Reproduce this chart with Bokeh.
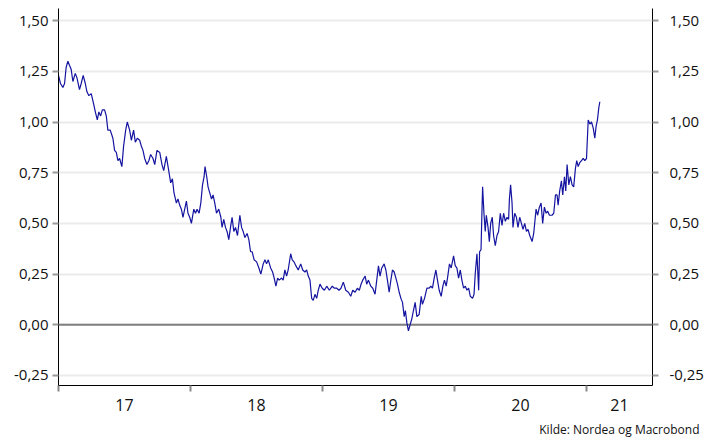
from bokeh.plotting import figure
from bokeh.models import FixedTicker, LinearAxis, Span, Range1d, Title
from bokeh.embed import file_html
from bokeh.resources import INLINE

# time in years since 1 Jan 2017
years_since_2017 = [
    0.000, 0.015, 0.033, 0.046, 0.058, 0.071, 0.083, 0.096, 0.109, 0.127,
    0.139, 0.159, 0.172, 0.187, 0.203, 0.215, 0.230, 0.248, 0.266, 0.279,
    0.294, 0.306, 0.319, 0.332, 0.349, 0.362, 0.374, 0.392, 0.412, 0.425,
    0.438, 0.450, 0.463, 0.480, 0.493, 0.509, 0.521, 0.539, 0.552, 0.569,
    0.582, 0.597, 0.615, 0.628, 0.640, 0.653, 0.670, 0.685, 0.698, 0.716,
    0.729, 0.746, 0.767, 0.784, 0.797, 0.817, 0.835, 0.850, 0.863, 0.875,
    0.893, 0.905, 0.918, 0.931, 0.943, 0.956, 0.969, 0.981, 0.994, 1.007,
    1.025, 1.038, 1.050, 1.065, 1.078, 1.091, 1.103, 1.110, 1.123, 1.133,
    1.146, 1.159, 1.171, 1.184, 1.197, 1.214, 1.230, 1.239, 1.252, 1.265,
    1.277, 1.290, 1.303, 1.315, 1.328, 1.341, 1.356, 1.374, 1.387, 1.399,
    1.412, 1.429, 1.442, 1.455, 1.467, 1.482, 1.501, 1.518, 1.533, 1.551,
    1.564, 1.576, 1.589, 1.607, 1.622, 1.634, 1.647, 1.660, 1.672, 1.690,
    1.702, 1.715, 1.728, 1.740, 1.759, 1.771, 1.784, 1.799, 1.816, 1.835,
    1.850, 1.867, 1.880, 1.892, 1.905, 1.918, 1.930, 1.943, 1.956, 1.968,
    1.981, 1.998, 2.014, 2.032, 2.052, 2.074, 2.090, 2.108, 2.125, 2.140,
    2.158, 2.176, 2.196, 2.214, 2.229, 2.247, 2.264, 2.279, 2.292, 2.305,
    2.323, 2.335, 2.348, 2.366, 2.381, 2.398, 2.411, 2.424, 2.436, 2.449,
    2.467, 2.480, 2.492, 2.505, 2.518, 2.530, 2.543, 2.556, 2.568, 2.581,
    2.594, 2.606, 2.619, 2.628, 2.639, 2.651, 2.664, 2.677, 2.689, 2.702,
    2.715, 2.732, 2.748, 2.757, 2.773, 2.791, 2.808, 2.821, 2.833, 2.846,
    2.859, 2.871, 2.884, 2.899, 2.912, 2.924, 2.937, 2.947, 2.962, 2.975,
    2.993, 3.006, 3.018, 3.031, 3.044, 3.056, 3.069, 3.082, 3.094, 3.107,
    3.120, 3.137, 3.148, 3.157, 3.170, 3.183, 3.190, 3.201, 3.208, 3.213,
    3.223, 3.233, 3.241, 3.254, 3.264, 3.274, 3.286, 3.296, 3.309, 3.322,
    3.334, 3.347, 3.360, 3.372, 3.385, 3.398, 3.410, 3.416, 3.425, 3.436,
    3.443, 3.456, 3.469, 3.481, 3.494, 3.507, 3.519, 3.532, 3.545, 3.557,
    3.570, 3.588, 3.600, 3.618, 3.630, 3.643, 3.656, 3.668, 3.681, 3.694,
    3.706, 3.719, 3.739, 3.752, 3.765, 3.777, 3.785, 3.797, 3.810, 3.820,
    3.833, 3.843, 3.853, 3.866, 3.878, 3.891, 3.903, 3.916, 3.926, 3.937,
    3.949, 3.962, 3.975, 3.987, 4.000, 4.013, 4.025, 4.038, 4.051, 4.063,
    4.073, 4.083, 4.093, 4.101,
]

rate = [
    1.23, 1.19, 1.17, 1.19, 1.27, 1.30, 1.28, 1.26, 1.20, 1.24,
    1.22, 1.16, 1.19, 1.23, 1.19, 1.15, 1.13, 1.14, 1.09, 1.05,
    1.01, 1.05, 1.03, 1.06, 1.06, 1.03, 0.96, 0.96, 0.92, 0.86,
    0.85, 0.81, 0.82, 0.78, 0.88, 0.96, 1.00, 0.96, 0.91, 0.96,
    0.90, 0.92, 0.91, 0.88, 0.86, 0.82, 0.79, 0.81, 0.84, 0.82,
    0.79, 0.86, 0.85, 0.79, 0.76, 0.83, 0.76, 0.70, 0.72, 0.65,
    0.60, 0.62, 0.59, 0.57, 0.53, 0.57, 0.61, 0.55, 0.53, 0.50,
    0.57, 0.55, 0.57, 0.55, 0.60, 0.69, 0.73, 0.78, 0.73, 0.68,
    0.65, 0.62, 0.64, 0.60, 0.55, 0.57, 0.53, 0.48, 0.52, 0.48,
    0.46, 0.42, 0.48, 0.53, 0.46, 0.48, 0.44, 0.54, 0.48, 0.46,
    0.43, 0.45, 0.42, 0.36, 0.36, 0.32, 0.31, 0.28, 0.25, 0.30,
    0.32, 0.30, 0.32, 0.28, 0.26, 0.23, 0.19, 0.23, 0.22, 0.23,
    0.22, 0.27, 0.24, 0.27, 0.35, 0.32, 0.31, 0.29, 0.27, 0.30,
    0.27, 0.26, 0.27, 0.24, 0.22, 0.13, 0.12, 0.15, 0.13, 0.17,
    0.20, 0.18, 0.17, 0.19, 0.17, 0.19, 0.18, 0.18, 0.17, 0.18,
    0.21, 0.17, 0.16, 0.14, 0.17, 0.16, 0.18, 0.17, 0.20, 0.22,
    0.24, 0.20, 0.22, 0.19, 0.18, 0.15, 0.22, 0.29, 0.24, 0.28,
    0.30, 0.27, 0.22, 0.16, 0.22, 0.27, 0.26, 0.23, 0.20, 0.16,
    0.13, 0.11, 0.04, 0.07, 0.01, -0.03, 0.00, 0.03, 0.07, 0.11,
    0.04, 0.05, 0.14, 0.10, 0.13, 0.18, 0.18, 0.19, 0.18, 0.23,
    0.27, 0.22, 0.17, 0.14, 0.19, 0.22, 0.19, 0.23, 0.30, 0.28,
    0.34, 0.29, 0.28, 0.23, 0.27, 0.22, 0.18, 0.19, 0.17, 0.18,
    0.14, 0.13, 0.15, 0.25, 0.35, 0.17, 0.36, 0.37, 0.56, 0.68,
    0.55, 0.46, 0.54, 0.48, 0.41, 0.50, 0.53, 0.44, 0.39, 0.44,
    0.46, 0.55, 0.49, 0.55, 0.51, 0.53, 0.52, 0.62, 0.69, 0.60,
    0.48, 0.55, 0.53, 0.48, 0.53, 0.50, 0.47, 0.50, 0.46, 0.47,
    0.44, 0.41, 0.45, 0.57, 0.54, 0.58, 0.60, 0.50, 0.58, 0.55,
    0.56, 0.54, 0.54, 0.55, 0.64, 0.64, 0.59, 0.66, 0.71, 0.64,
    0.73, 0.66, 0.79, 0.69, 0.73, 0.69, 0.68, 0.77, 0.81, 0.78,
    0.80, 0.81, 0.82, 0.81, 0.82, 1.01, 0.99, 1.00, 0.97, 0.92,
    0.98, 1.01, 1.07, 1.10,
]

y_ticks = [-0.25, 0.0, 0.25, 0.5, 0.75, 1.0, 1.25, 1.5]
y_tick_labels = ["-0,25", "0,00", "0,25", "0,50", "0,75", "1,00", "1,25", "1,50"]
year_starts = [2017.0, 2018.0, 2019.0, 2020.0, 2021.0]
year_label_pos = [2017.5, 2018.5, 2019.5, 2020.5, 2021.25]
year_labels = ["17", "18", "19", "20", "21"]
source_text = "Kilde: Nordea og Macrobond"

FONT = "Open Sans"
TXT = "#111111"
x = [2017 + t for t in years_since_2017]

p = figure(width=710, height=448, output_backend="svg", toolbar_location=None,
           x_range=Range1d(2017.0, 2021.5), y_range=Range1d(-0.30, 1.56),
           min_border_left=58, min_border_right=58, min_border_top=8,
           min_border_bottom=63)
p.outline_line_color = None
p.background_fill_color = "white"
p.border_fill_color = "white"

p.xgrid.visible = False
p.ygrid.ticker = FixedTicker(ticks=y_ticks)
p.ygrid.grid_line_color = "#ebebeb"
p.ygrid.grid_line_width = 2

p.add_layout(Span(location=0, dimension="width", line_color="#7f7f7f",
                  line_width=2, level="underlay"))

p.line(x, rate, line_color="#1414a0", line_width=1.2)


def style_y(ax):
    ax.ticker = FixedTicker(ticks=y_ticks)
    ax.major_label_overrides = {v: s for v, s in zip(y_ticks, y_tick_labels)}
    ax.axis_line_color = "black"
    ax.axis_line_width = 1
    ax.major_tick_line_color = "#9a9a9a"
    ax.major_tick_line_width = 2
    ax.major_tick_out = 6
    ax.major_tick_in = 0
    ax.minor_tick_line_color = None
    ax.major_label_text_font = FONT
    ax.major_label_text_font_size = "15px"
    ax.major_label_text_color = TXT


ya = p.yaxis[0]
style_y(ya)
ya.major_label_standoff = 4

ra = LinearAxis()
style_y(ra)
ra.major_label_standoff = 11
p.add_layout(ra, "right")

# bottom axis
xa = p.xaxis[0]
xa.ticker = FixedTicker(ticks=year_label_pos, minor_ticks=year_starts)
xa.major_label_overrides = {v: s for v, s in zip(year_label_pos, year_labels)}
xa.axis_line_color = "black"
xa.major_tick_line_color = None
xa.major_tick_out = 0
xa.major_tick_in = 0
xa.minor_tick_line_color = "#8a8a8a"
xa.minor_tick_line_width = 2
xa.minor_tick_out = 6
xa.minor_tick_in = 0
xa.major_label_standoff = 7
xa.major_label_text_font = FONT
xa.major_label_text_font_size = "16px"
xa.major_label_text_color = TXT

p.add_layout(Title(text=source_text, align="right", offset=-47,
                   text_font=FONT, text_font_size="12px",
                   text_font_style="normal", text_color=TXT), "below")

open("out.html", "w").write(file_html(p, INLINE))
